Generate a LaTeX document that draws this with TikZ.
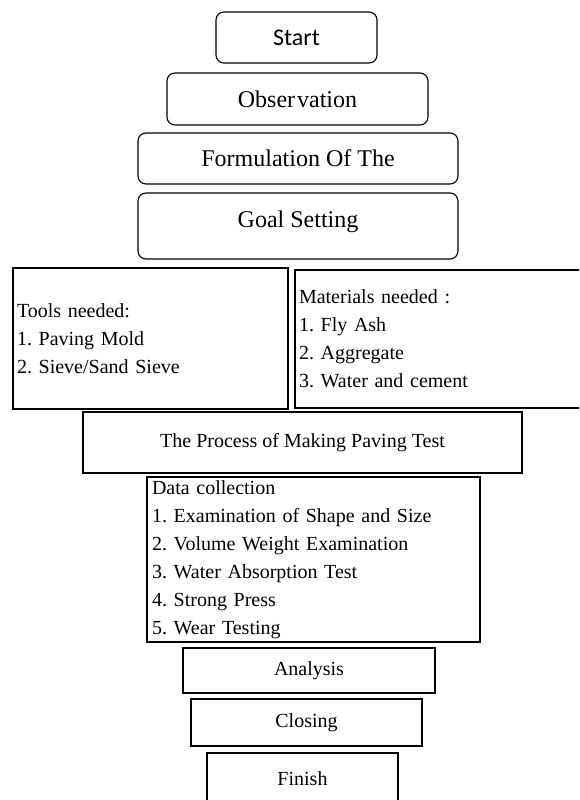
\documentclass[tikz,border=0pt]{standalone}
\usepackage{fontspec}
\setmainfont{Liberation Serif}
\newfontfamily\startfont{Carlito}
\frenchspacing

\begin{document}
\begin{tikzpicture}[x=1pt,y=-1pt,line width=1.1pt]
        \tikzset{%
            round box/.style={draw, rounded corners=8pt, inner sep=0pt,%
                font=\fontsize{24}{28}\selectfont},%
            plain box/.style={draw, inner sep=0pt,%
                font=\fontsize{20}{28}\selectfont},%
            list box/.style={draw, align=left, inner xsep=4pt, inner ysep=0pt,%
                font=\fontsize{20}{28}\selectfont},%
        }%

        \useasboundingbox (0,0) rectangle (579,800);%
        \clip (0,0) rectangle (579,800);%

        %
        % Opening steps
        %
        \node[round box, minimum width=161pt, minimum height=51pt,%
            font=\startfont\fontsize{24}{28}\selectfont] (start) at (296.5,37.5) {Start};%
        \node[round box, minimum width=261pt, minimum height=52pt] (observation) at (297.5,99) {Obser\kern2pt vation};%
        \node[round box, minimum width=320pt, minimum height=51pt] (formulation) at (298,158.5) {Formulation Of The};%
        \node[round box, minimum width=320pt, minimum height=66pt, text depth=14pt] (goal) at (298,226) {Goal Setting};%

        %
        % Tools and materials
        %
        \node[list box, text width=267pt, minimum height=141pt] (tools) at (150.5,338.5)%
            {Tools needed:\\1. Paving Mold\\2. Sieve/Sand Sieve};%
        \node[list box, text width=280pt, minimum height=138pt] (materials) at (439,339)%
            {Materials needed :\\1. Fly Ash\\2. Aggregate\\3. Water and cement};%

        %
        % Making and testing
        %
        \node[plain box, minimum width=439pt, minimum height=61pt] (process) at (302.5,442.5) {The Process of Making Paving Test};%
        \node[list box, inner xsep=5pt, text width=323pt, minimum height=165pt] (data) at (313.5,559.5)%
            {Data collection\\1. Examination of Shape and Size\\2. Volume Weight Examination\\%
             3. Water Absorption Test\\4. Strong Press\\5. Wear Testing};%

        %
        % Closing steps
        %
        \node[plain box, minimum width=252pt, minimum height=45pt] (analysis) at (309,670.5) {Analysis};%
        \node[plain box, minimum width=231pt, minimum height=47pt] (closing) at (306.5,722.5) {Closing};%
        \node[plain box, minimum width=191pt, minimum height=52pt] (finish) at (302.5,779) {Finish};%
    \end{tikzpicture}
\end{document}
